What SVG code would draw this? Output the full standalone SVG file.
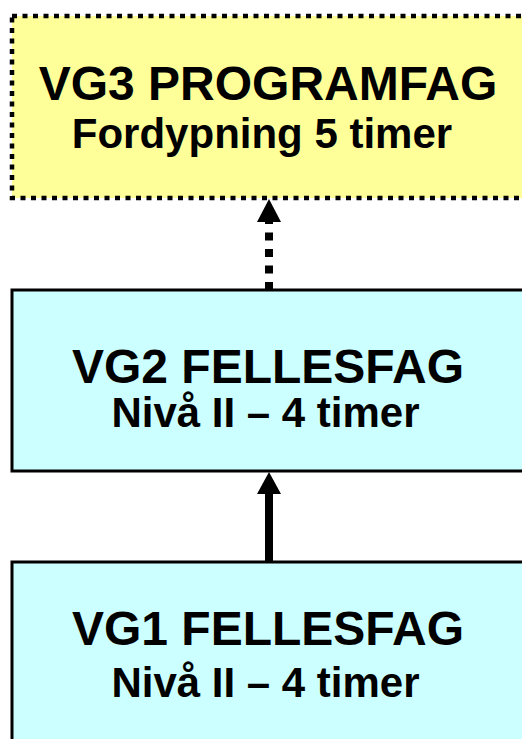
<svg xmlns="http://www.w3.org/2000/svg" width="522" height="739" viewBox="0 0 522 739">
<style>
.t1{font-family:"Liberation Sans",Arial,sans-serif;font-weight:bold;font-size:48px;fill:#000;text-anchor:middle}
.t2{font-family:"Liberation Sans",Arial,sans-serif;font-weight:bold;font-size:42px;fill:#000;text-anchor:middle}
.cyan{fill:#CCFFFF;stroke:#000;stroke-width:3}
</style>
<rect width="522" height="739" fill="#fff"/>
<g id="vg3">
<rect x="12" y="16" width="530" height="182" fill="#FFFF99" stroke="#000" stroke-width="4.5" stroke-dasharray="5 5.5"/>
<text class="t1" x="268" y="99.5">VG3 PROGRAMFAG</text>
<text class="t2" x="262" y="148">Fordypning 5 timer</text>
</g>
<g id="vg2">
<rect class="cyan" x="12" y="290" width="530" height="181"/>
<text class="t1" x="268" y="383">VG2 FELLESFAG</text>
<text class="t2" x="265.5" y="427">Nivå II – 4 timer</text>
</g>
<g id="vg1">
<rect class="cyan" x="12" y="562" width="530" height="200"/>
<text class="t1" x="268" y="645">VG1 FELLESFAG</text>
<text class="t2" x="265.5" y="697">Nivå II – 4 timer</text>
</g>
<g id="connectors">
<line x1="269" y1="290" x2="269" y2="222" stroke="#000" stroke-width="8" stroke-dasharray="8 8.5"/>
<polygon points="269,199 257,222 281,222" fill="#000"/>
<line x1="269" y1="561" x2="269" y2="492" stroke="#000" stroke-width="8"/>
<polygon points="269,472 257,494 281,494" fill="#000"/>
</g>
</svg>
